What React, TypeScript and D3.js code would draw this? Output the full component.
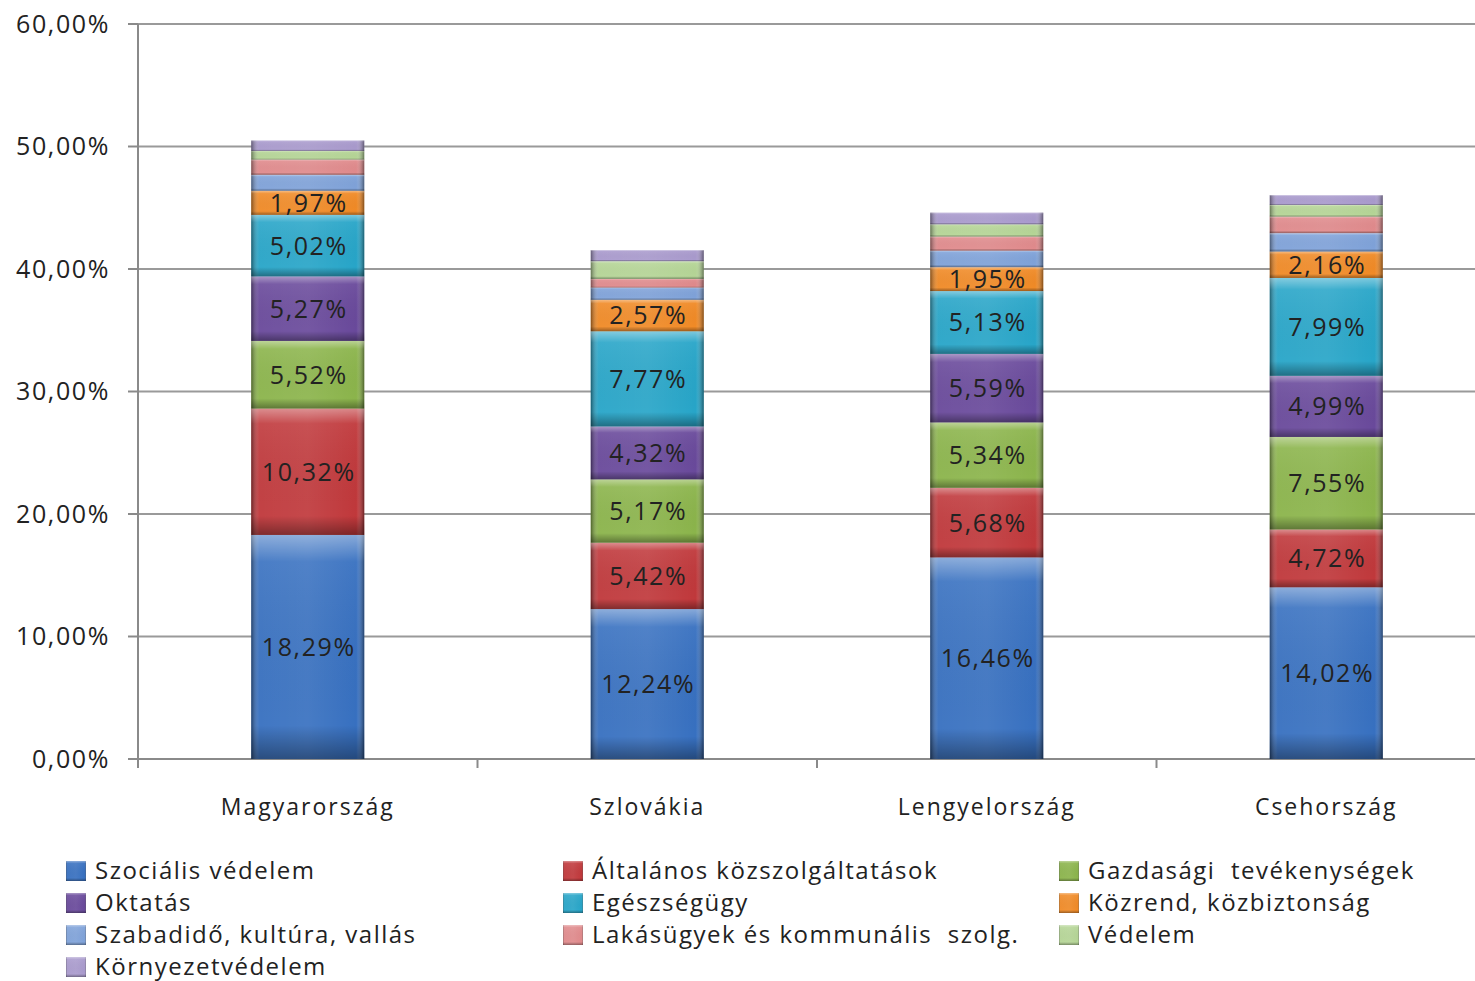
import React from "react";
import * as d3 from "d3";

const categories = ["Magyarország", "Szlovákia", "Lengyelország", "Csehország"];
const seriesNames = [
  "Szociális védelem",
  "Általános közszolgáltatások",
  "Gazdasági  tevékenységek",
  "Oktatás",
  "Egészségügy",
  "Közrend, közbiztonság",
  "Szabadidő, kultúra, vallás",
  "Lakásügyek és kommunális  szolg.",
  "Védelem",
  "Környezetvédelem",
];
const seriesColors = [
  "#3770c0", "#c0383b", "#8bb44b", "#69499b", "#27a5c8",
  "#f08a26", "#7fa2d9", "#e08a8c", "#b5d596", "#a99acd",
];
// values[series][category]
const szocialis = [18.29, 12.24, 16.46, 14.02];
const altalanos = [10.32, 5.42, 5.68, 4.72];
const gazdasagi = [5.52, 5.17, 5.34, 7.55];
const oktatas = [5.27, 4.32, 5.59, 4.99];
const egeszseg = [5.02, 7.77, 5.13, 7.99];
const kozrend = [1.97, 2.57, 1.95, 2.16];
const szabadido = [1.3, 1.0, 1.35, 1.5];
const lakas = [1.25, 0.7, 1.15, 1.35];
const vedelem = [0.7, 1.45, 1.0, 0.95];
const kornyezet = [0.85, 0.9, 0.95, 0.8];
const values = [szocialis, altalanos, gazdasagi, oktatas, egeszseg, kozrend, szabadido, lakas, vedelem, kornyezet];
const labeledSeries = [0, 1, 2, 3, 4, 5];
const yTicks = [0, 10, 20, 30, 40, 50, 60];

const W = 1475, H = 981;
const M = { left: 138, right: 1475, top: 24, bottom: 759 };
const BAND = 339.5;
const FONT = "'Open Sans', 'Noto Sans', sans-serif";

const fmt = (v: number) => v.toFixed(2).replace(".", ",") + "%";

export default function App() {
  const x = d3.scaleBand<string>().domain(categories).range([M.left, M.left + BAND * categories.length]).padding(0);
  const y = d3.scaleLinear().domain([0, 60]).range([M.bottom, M.top]);
  const barW = 113;

  const rows = categories.map((c, ci) => {
    const obj: any = { cat: c };
    seriesNames.forEach((s, si) => (obj[s] = values[si][ci]));
    return obj;
  });
  const stacked = d3.stack<any>().keys(seriesNames)(rows);

  const legendCols = [66, 563, 1059];
  const legendRows = [871, 903, 935, 967];

  return (
    <svg width={W} height={H} style={{ position: "absolute", left: 0, top: 0, background: "#fff" }}>
      <defs>
        <linearGradient id="hShade" x1="0" x2="1" y1="0" y2="0">
          <stop offset="0" stopColor="#000" stopOpacity="0.45" />
          <stop offset="0.07" stopColor="#fff" stopOpacity="0.05" />
          <stop offset="0.5" stopColor="#fff" stopOpacity="0.08" />
          <stop offset="0.93" stopColor="#fff" stopOpacity="0.0" />
          <stop offset="1" stopColor="#000" stopOpacity="0.45" />
        </linearGradient>
        <linearGradient id="vShade" x1="0" x2="0" y1="0" y2="1">
          <stop offset="0" stopColor="#fff" stopOpacity="0.4" />
          <stop offset="0.12" stopColor="#fff" stopOpacity="0.05" />
          <stop offset="0.85" stopColor="#000" stopOpacity="0.0" />
          <stop offset="1" stopColor="#000" stopOpacity="0.35" />
        </linearGradient>
      </defs>
      {/* gridlines */}
      {yTicks.map((t) => (
        <g key={t}>
          <line x1={M.left} x2={M.right} y1={y(t)} y2={y(t)} stroke="#9a9a9a" strokeWidth={2} />
          <line x1={M.left - 10} x2={M.left} y1={y(t)} y2={y(t)} stroke="#8a8a8a" strokeWidth={2} />
          <text x={110} y={y(t)} dy="0.35em" textAnchor="end" fontFamily={FONT} fontSize={25} fill="#222" letterSpacing={1.6}>
            {fmt(t)}
          </text>
        </g>
      ))}
      <line x1={M.left} x2={M.left} y1={M.top} y2={M.bottom} stroke="#8a8a8a" strokeWidth={2} />
      <line x1={M.left} x2={M.right} y1={M.bottom} y2={M.bottom} stroke="#8a8a8a" strokeWidth={2} />
      {categories.map((c) => x(c)!).map((px, i) => (
        <line key={i} x1={px} x2={px} y1={M.bottom} y2={M.bottom + 9} stroke="#8a8a8a" strokeWidth={2} />
      ))}
      {/* bars */}
      {stacked.map((layer, si) =>
        layer.map((d, ci) => {
          const cx = x(categories[ci])! + x.bandwidth() / 2;
          const x0 = cx - barW / 2;
          const y0 = y(d[1]);
          const h = y(d[0]) - y(d[1]);
          return (
            <g key={`${si}-${ci}`}>
              <rect x={x0} y={y0} width={barW} height={h} fill={seriesColors[si]} />
              <rect x={x0} y={y0} width={barW} height={h} fill="url(#hShade)" />
              <rect x={x0} y={y0} width={barW} height={h} fill="url(#vShade)" />
            </g>
          );
        })
      )}
      {/* value labels */}
      {stacked.map((layer, si) =>
        labeledSeries.includes(si)
          ? layer.map((d, ci) => {
              const cx = x(categories[ci])! + x.bandwidth() / 2;
              return (
                <text key={`l${si}-${ci}`} x={cx + 1} y={y((d[0] + d[1]) / 2)} dy="0.36em" textAnchor="middle"
                  fontFamily={FONT} fontSize={25} fill="#222" letterSpacing={1.6}>
                  {fmt(values[si][ci])}
                </text>
              );
            })
          : null
      )}
      {/* category labels */}
      {categories.map((c) => (
        <text key={c} x={x(c)! + x.bandwidth() / 2} y={807} dy="0.35em" textAnchor="middle"
          fontFamily={FONT} fontSize={23} fill="#222" letterSpacing={2}>
          {c}
        </text>
      ))}
      {/* legend */}
      {seriesNames.map((s, i) => {
        const lx = legendCols[i % 3];
        const ly = legendRows[Math.floor(i / 3)];
        return (
          <g key={s}>
            <rect x={lx} y={ly - 10} width={20} height={20} fill={seriesColors[i]} />
            <rect x={lx} y={ly - 10} width={20} height={20} fill="url(#hShade)" />
            <rect x={lx} y={ly - 10} width={20} height={20} fill="url(#vShade)" />
            <text x={lx + 29} y={ly} dy="0.35em" fontFamily={FONT} fontSize={24} fill="#222" letterSpacing={1.5}
              style={{ whiteSpace: "pre" }}>
              {s}
            </text>
          </g>
        );
      })}
    </svg>
  );
}
